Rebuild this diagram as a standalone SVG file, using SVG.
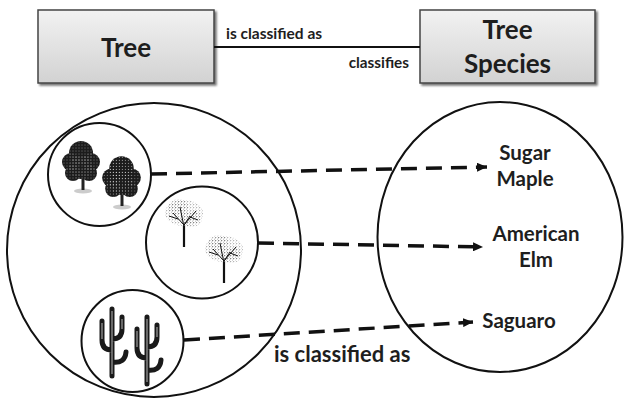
<svg xmlns="http://www.w3.org/2000/svg" width="625" height="402" viewBox="0 0 625 402">
<defs>
<linearGradient id="boxg" x1="0" y1="0" x2="0" y2="1">
<stop offset="0" stop-color="#f2f2f2"/>
<stop offset="1" stop-color="#d2d2d2"/>
</linearGradient>
<filter id="sh" x="-10%" y="-10%" width="130%" height="140%">
<feGaussianBlur in="SourceAlpha" stdDeviation="1.2"/>
<feOffset dx="1.5" dy="2" result="b"/>
<feComponentTransfer><feFuncA type="linear" slope="0.55"/></feComponentTransfer>
<feMerge><feMergeNode/><feMergeNode in="SourceGraphic"/></feMerge>
</filter>
<pattern id="speck" width="3" height="3" patternUnits="userSpaceOnUse">
<circle cx="1" cy="1" r="0.45" fill="#d8d8d8"/>
</pattern>
<pattern id="leaf" width="3" height="3" patternUnits="userSpaceOnUse">
<circle cx="0.8" cy="0.8" r="0.45" fill="#222"/>
<circle cx="2.3" cy="2.1" r="0.3" fill="#666"/>
</pattern>
<marker id="ah" viewBox="0 0 10 9" refX="10" refY="4.5" markerWidth="10" markerHeight="9" markerUnits="userSpaceOnUse" orient="auto">
<path d="M0,0 L10,4.5 L0,9 z" fill="#111"/>
</marker>
<g id="maple">
<circle cx="0" cy="-27" r="12"/>
<circle cx="-10" cy="-18" r="9"/>
<circle cx="10" cy="-18" r="9"/>
<circle cx="-8" cy="-7" r="8"/>
<circle cx="8" cy="-7" r="8"/>
<circle cx="0" cy="-13" r="12"/>
</g>
<g id="elm">
<ellipse cx="0" cy="-12" rx="19" ry="13" fill="url(#leaf)"/>
<ellipse cx="-6" cy="-18" rx="10" ry="8" fill="url(#leaf)"/>
<ellipse cx="7" cy="-6" rx="11" ry="8" fill="url(#leaf)"/>
<path d="M0,22 L0,0 M0,0 L-11,-12 M0,0 L12,-14 M0,2 L-4,-18 M0,0 L6,-9 M-6,-6 L-15,-9 M6,-8 L14,-5" fill="none" stroke="#111" stroke-width="1"/>
<path d="M0,22 L0,1" stroke="#111" stroke-width="2.2"/>
</g>
<g id="cactus">
<path d="M112,376 L112,309 M112,350 Q102,350 102,340 L102,321 M112,339 Q122,339 122,329 L122,317 M112,362 Q125,364 126,352" fill="none" stroke="#1a1a1a" stroke-width="5" stroke-linecap="round"/>
<path d="M112,374 L112,311 M102,339 L102,323 M122,329 L122,319" fill="none" stroke="#fff" stroke-width="0.7"/>
</g>
</defs>
<style>
.box{fill:url(#boxg);stroke:#444;stroke-width:1.5;}
.big{font-family:"Lato","Liberation Sans",sans-serif;font-weight:bold;fill:#1e1e1e;}
.ring{fill:none;stroke:#111;stroke-width:2;}
.dash{fill:none;stroke:#111;stroke-width:3.5;stroke-dasharray:16 9;}
</style>
<rect width="625" height="402" fill="#fff"/>

<g id="tree-box">
<rect class="box" x="38" y="10" width="176" height="73" filter="url(#sh)"/>
<text class="big" x="126" y="57" font-size="26" text-anchor="middle">Tree</text>
</g>
<g id="species-box">
<rect class="box" x="420" y="10" width="175" height="73" filter="url(#sh)"/>
<text class="big" x="507.5" y="39" font-size="26" text-anchor="middle">Tree</text>
<text class="big" x="507.5" y="73" font-size="26" text-anchor="middle">Species</text>
</g>

<g id="trees-set">
<circle class="ring" cx="154" cy="250" r="147"/>
</g>
<g id="maple-set">
<circle class="ring" cx="99.5" cy="174.5" r="51.5"/>
<ellipse cx="83" cy="191" rx="9" ry="2.5" fill="#ccc"/>
<ellipse cx="122" cy="207" rx="9" ry="2.5" fill="#ccc"/>
<path d="M83,178 L83,190 M122,193 L122,206" stroke="#222" stroke-width="3"/>
<use href="#maple" transform="translate(81,180)" fill="#1c1c1c"/>
<use href="#maple" transform="translate(81,180)" fill="url(#speck)"/>
<use href="#maple" transform="translate(121.5,196) scale(1.02)" fill="#1c1c1c"/>
<use href="#maple" transform="translate(121.5,196) scale(1.02)" fill="url(#speck)"/>
</g>
<g id="elm-set">
<circle class="ring" cx="202" cy="242.5" r="56"/>
<use href="#elm" transform="translate(184,225)"/>
<use href="#elm" transform="translate(224,261)"/>
</g>
<g id="cactus-set">
<circle class="ring" cx="132.5" cy="341" r="51"/>
<use href="#cactus"/>
<use href="#cactus" transform="translate(35,8)"/>
</g>

<g id="species-set">
<ellipse class="ring" cx="500" cy="237" rx="122.5" ry="135"/>
<text class="big" font-size="20.5" text-anchor="middle"><tspan x="525" y="160">Sugar</tspan><tspan x="525" y="186">Maple</tspan></text>
<text class="big" font-size="20.5" text-anchor="middle"><tspan x="536" y="241">American</tspan><tspan x="536" y="267">Elm</tspan></text>
<text class="big" x="519" y="328" font-size="20.5" text-anchor="middle">Saguaro</text>
</g>

<g id="connectors">
<line x1="214" y1="47" x2="420" y2="47" stroke="#111" stroke-width="2"/>
<text class="big" x="226" y="39" font-size="15.5">is classified as</text>
<text class="big" x="409" y="68" font-size="15.3" text-anchor="end">classifies</text>
<line class="dash" x1="151" y1="174" x2="487" y2="167" marker-end="url(#ah)"/>
<line class="dash" x1="258" y1="243" x2="483" y2="247" marker-end="url(#ah)"/>
<line class="dash" x1="184" y1="340" x2="473" y2="322" marker-end="url(#ah)"/>
<text class="big" x="274" y="362" font-size="22">is classified as</text>
</g>
</svg>
